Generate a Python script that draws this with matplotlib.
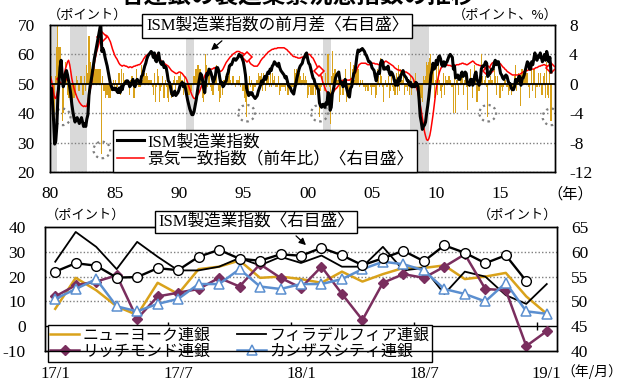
import matplotlib
matplotlib.use('Agg')
import matplotlib.pyplot as plt
import numpy as np
from matplotlib.patches import Ellipse, FancyArrowPatch
from matplotlib.lines import Line2D

plt.rcParams['font.family'] = ['Liberation Serif', 'Noto Sans CJK JP']
plt.rcParams['axes.unicode_minus'] = False

# ---------------- data: top panel (monthly, 1980/1 - 2018/12) ----------------
ism_monthly = [
    47.5, 48.5, 43.5, 37.5, 29.5, 30.5, 35.5, 45.5, 50.5, 55.5, 58.0, 53.0,  # 1980
    49.0, 50.5, 53.5, 54.5, 53.0, 51.0, 49.0, 46.5, 43.0, 40.5, 38.5, 37.0,  # 1981
    38.0, 38.5, 37.5, 36.5, 37.5, 38.5, 37.0, 35.5, 36.5, 35.5, 38.0, 39.5,  # 1982
    46.0, 49.0, 51.0, 53.5, 56.0, 58.5, 60.5, 62.5, 64.5, 66.5, 68.5, 70.5,  # 1983
    61.0, 62.0, 61.0, 59.0, 57.5, 56.0, 54.0, 52.0, 50.0, 49.0, 48.0, 48.5,  # 1984
    48.0, 48.5, 47.5, 47.0, 48.5, 47.0, 49.0, 48.0, 49.5, 50.0, 50.5, 51.0,  # 1985
    51.0, 50.5, 49.0, 49.5, 50.5, 51.5, 49.5, 49.0, 51.0, 51.5, 51.0, 50.5,  # 1986
    50.0, 52.5, 53.0, 54.5, 56.0, 57.0, 58.5, 59.5, 60.0, 60.5, 61.0, 60.5,  # 1987
    59.0, 60.5, 58.0, 57.5, 59.5, 60.5, 58.0, 57.0, 56.5, 57.5, 55.5, 56.0,  # 1988
    55.5, 53.5, 51.0, 50.5, 49.0, 47.0, 46.0, 46.5, 47.5, 46.0, 46.5, 47.0,  # 1989
    48.0, 49.5, 50.0, 50.5, 49.0, 50.0, 48.5, 46.5, 44.5, 43.0, 41.5, 40.5,  # 1990
    39.5, 39.5, 40.5, 42.5, 44.5, 47.0, 49.5, 51.5, 53.5, 53.0, 51.0, 48.5,  # 1991
    47.0, 51.0, 53.5, 53.0, 55.0, 54.5, 53.5, 52.0, 50.5, 51.5, 53.0, 55.5,  # 1992
    55.5, 54.5, 52.0, 50.0, 50.5, 49.0, 49.5, 50.5, 51.0, 53.0, 54.0, 56.0,  # 1993
    56.5, 56.5, 57.5, 58.5, 58.5, 58.0, 58.5, 59.0, 60.0, 59.5, 59.5, 58.5,  # 1994
    57.5, 55.5, 53.0, 48.5, 47.0, 46.0, 47.0, 46.5, 47.0, 46.0, 45.5, 45.0,  # 1995
    45.5, 46.0, 47.5, 48.5, 49.5, 51.0, 50.0, 51.5, 52.5, 51.5, 53.0, 54.0,  # 1996
    53.5, 55.0, 54.5, 56.0, 56.5, 57.5, 57.0, 56.5, 56.0, 57.0, 55.5, 54.5,  # 1997
    54.0, 53.5, 53.0, 52.0, 52.5, 51.0, 49.5, 49.0, 48.5, 47.5, 47.0, 46.5,  # 1998
    48.5, 50.0, 52.0, 53.5, 55.0, 56.0, 56.5, 57.0, 58.5, 59.0, 60.0, 60.5,  # 1999
    58.5, 57.0, 56.5, 55.0, 53.5, 52.0, 51.5, 50.0, 49.5, 48.5, 48.0, 43.5,  # 2000
    42.5, 42.0, 43.0, 43.0, 42.0, 43.5, 43.0, 47.0, 46.5, 41.0, 42.0, 46.5,  # 2001
    48.0, 50.0, 52.0, 53.0, 53.5, 54.0, 51.5, 50.0, 50.5, 49.0, 49.5, 51.5,  # 2002
    49.0, 47.5, 46.0, 45.5, 48.5, 49.0, 51.0, 53.5, 54.0, 56.5, 59.5, 61.5,  # 2003
    61.0, 61.5, 61.5, 62.0, 61.5, 61.0, 60.0, 59.5, 58.5, 57.5, 57.5, 57.0,  # 2004
    55.5, 55.0, 54.5, 52.5, 51.0, 53.0, 54.0, 53.5, 57.0, 58.0, 57.5, 55.0,  # 2005
    55.0, 55.5, 55.0, 56.0, 54.0, 53.0, 54.0, 53.5, 52.5, 51.0, 49.5, 51.0,  # 2006
    49.5, 52.0, 51.0, 53.0, 53.5, 54.5, 53.0, 52.5, 52.0, 51.0, 51.0, 49.5,  # 2007
    50.5, 49.0, 49.0, 49.5, 49.0, 50.5, 50.0, 49.0, 44.5, 39.0, 37.0, 34.5,  # 2008
    35.5, 36.0, 37.0, 40.0, 42.5, 45.5, 49.0, 53.0, 54.5, 57.0, 55.0, 55.5,  # 2009
    58.0, 56.5, 59.0, 59.5, 58.5, 56.5, 56.0, 57.5, 56.0, 57.0, 57.5, 58.5,  # 2010
    59.5, 60.0, 59.5, 59.0, 55.0, 56.0, 52.0, 52.5, 53.0, 51.5, 51.5, 53.0,  # 2011
    54.0, 52.5, 53.0, 54.0, 53.5, 50.0, 50.0, 49.5, 51.5, 51.5, 49.5, 50.5,  # 2012
    53.0, 54.0, 51.5, 50.5, 49.5, 51.0, 55.0, 56.0, 56.0, 56.5, 57.5, 57.0,  # 2013
    52.5, 53.0, 53.5, 54.5, 55.0, 55.0, 57.0, 58.0, 56.5, 57.5, 57.5, 55.5,  # 2014
    53.5, 53.0, 52.0, 51.5, 52.5, 53.0, 52.5, 51.0, 50.0, 50.0, 48.5, 48.0,  # 2015
    48.0, 49.0, 51.5, 50.5, 51.0, 52.5, 52.5, 49.5, 51.5, 52.0, 53.0, 54.5,  # 2016
    56.0, 57.5, 57.0, 55.0, 55.0, 57.5, 56.5, 58.5, 60.5, 58.5, 58.0, 59.5,  # 2017
    59.0, 60.5, 59.0, 57.5, 58.5, 60.0, 58.0, 61.0, 59.5, 57.5, 59.0, 54.0,  # 2018
]

coincident_yoy = [
    0.9, 0.5, -0.3, -1.2, -1.9, -2.0, -1.5, -0.8, -0.1, 0.2, 0.1, 0.6,  # 1980
    0.9, 1.4, 2.0, 2.5, 3.0, 3.2, 2.6, 1.7, 0.7, 0.0, -0.6, -1.1,  # 1981
    -1.5, -1.9, -2.2, -2.5, -2.7, -2.9, -3.0, -3.1, -3.0, -3.1, -3.0, -2.4,  # 1982
    -1.6, -0.9, -0.2, 0.8, 1.8, 2.8, 3.6, 4.3, 4.8, 5.3, 5.8, 6.1,  # 1983
    6.3, 6.5, 6.6, 6.6, 6.6, 6.5, 6.3, 6.0, 5.7, 5.2, 4.7, 4.3,  # 1984
    3.9, 3.6, 3.4, 3.1, 2.8, 2.6, 2.5, 2.4, 2.5, 2.5, 2.4, 2.4,  # 1985
    2.3, 2.2, 2.3, 2.3, 2.2, 2.3, 2.4, 2.4, 2.5, 2.5, 2.6, 2.6,  # 1986
    2.7, 2.9, 3.1, 3.4, 3.6, 3.8, 3.9, 4.0, 4.1, 4.2, 4.1, 4.1,  # 1987
    4.1, 4.0, 4.0, 3.9, 3.8, 3.6, 3.4, 3.2, 3.0, 2.9, 2.8, 2.7,  # 1988
    2.6, 2.5, 2.4, 2.2, 2.0, 1.8, 1.7, 1.6, 1.5, 1.4, 1.4, 1.5,  # 1989
    1.6, 1.6, 1.5, 1.4, 1.2, 1.0, 0.9, 0.6, 0.2, -0.3, -0.7, -1.1,  # 1990
    -1.5, -1.8, -2.0, -2.0, -1.8, -1.6, -1.4, -1.1, -0.7, -0.3, 0.2, 0.7,  # 1991
    1.1, 1.4, 1.6, 1.7, 1.9, 2.0, 2.0, 2.0, 2.1, 2.2, 2.0, 1.9,  # 1992
    1.8, 1.7, 1.7, 1.7, 1.8, 2.0, 2.3, 2.6, 2.9, 3.1, 3.3, 3.5,  # 1993
    3.7, 3.8, 4.0, 4.1, 4.2, 4.3, 4.4, 4.4, 4.4, 4.3, 4.2, 4.2,  # 1994
    4.1, 4.0, 3.8, 3.6, 3.5, 3.2, 2.9, 2.7, 2.6, 2.5, 2.4, 2.4,  # 1995
    2.4, 2.4, 2.6, 2.8, 3.1, 3.3, 3.5, 3.6, 3.8, 4.0, 4.1, 4.3,  # 1996
    4.4, 4.5, 4.6, 4.7, 4.7, 4.8, 4.8, 4.8, 4.9, 4.9, 4.9, 4.9,  # 1997
    4.9, 4.9, 4.9, 4.8, 4.7, 4.6, 4.4, 4.3, 4.1, 4.0, 3.8, 3.7,  # 1998
    3.7, 3.6, 3.6, 3.5, 3.5, 3.5, 3.6, 3.6, 3.7, 3.7, 3.8, 3.9,  # 1999
    4.0, 4.0, 4.0, 3.8, 3.6, 3.5, 3.2, 2.9, 2.6, 2.3, 2.0, 1.8,  # 2000
    1.3, 0.8, 0.3, -0.1, -0.5, -0.9, -1.1, -1.3, -1.5, -1.5, -1.4, -1.2,  # 2001
    -1.1, -0.9, -0.7, -0.6, -0.4, -0.2, 0.1, 0.3, 0.4, 0.5, 0.5, 0.5,  # 2002
    0.5, 0.5, 0.5, 0.5, 0.6, 0.7, 0.8, 1.0, 1.4, 1.7, 2.0, 2.3,  # 2003
    2.6, 2.7, 2.8, 2.8, 2.8, 2.8, 2.8, 2.7, 2.6, 2.6, 2.6, 2.7,  # 2004
    2.8, 2.8, 2.8, 2.7, 2.7, 2.7, 2.6, 2.6, 2.5, 2.6, 2.7, 2.8,  # 2005
    3.0, 3.1, 3.0, 2.9, 2.8, 2.7, 2.6, 2.5, 2.4, 2.2, 2.1, 2.0,  # 2006
    1.9, 1.9, 1.8, 1.8, 1.7, 1.7, 1.7, 1.6, 1.6, 1.5, 1.4, 1.3,  # 2007
    1.1, 1.0, 0.8, 0.5, 0.1, -0.3, -0.7, -1.2, -2.0, -2.8, -3.7, -4.6,  # 2008
    -5.6, -6.5, -7.1, -7.6, -7.7, -7.5, -7.0, -6.2, -5.2, -4.2, -3.0, -1.8,  # 2009
    -0.6, 0.3, 1.0, 1.6, 2.0, 2.3, 2.5, 2.6, 2.6, 2.6, 2.6, 2.5,  # 2010
    2.5, 2.5, 2.4, 2.4, 2.4, 2.5, 2.5, 2.6, 2.6, 2.6, 2.7, 2.7,  # 2011
    2.8, 2.8, 2.7, 2.7, 2.6, 2.6, 2.7, 2.8, 2.9, 3.0, 3.1, 3.0,  # 2012
    2.8, 2.7, 2.6, 2.6, 2.5, 2.5, 2.4, 2.4, 2.3, 2.2, 2.0, 1.9,  # 2013
    1.8, 2.0, 2.3, 2.6, 2.8, 2.9, 3.0, 3.1, 3.1, 3.0, 2.9, 2.8,  # 2014
    2.7, 2.5, 2.3, 2.2, 2.0, 1.9, 1.7, 1.6, 1.5, 1.4, 1.3, 1.2,  # 2015
    1.2, 1.2, 1.2, 1.2, 1.2, 1.2, 1.3, 1.4, 1.5, 1.6, 1.7, 1.7,  # 2016
    1.8, 1.8, 1.9, 1.9, 1.9, 2.0, 2.0, 2.0, 2.1, 2.2, 2.2, 2.3,  # 2017
    2.4, 2.4, 2.5, 2.5, 2.6, 2.6, 2.5, 2.4, 2.4, 2.3, 2.2, 2.2,  # 2018
]

start_year = 1980
# months of the large ISM drops marked with diamonds / dotted circles
drop_months = ['1980-12', '1984-01', '1995-04', '2000-12', '2014-01', '2018-12']
recessions = [(1980.0, 1980.55), (1981.55, 1982.87), (1990.55, 1991.2),
              (2001.2, 2001.85), (2007.92, 2009.47)]
year_ticks = [1980, 1985, 1990, 1995, 2000, 2005, 2010, 2015]
year_labels = ['80', '85', '90', '95', '00', '05', '10', '15']

# ---------------- data: bottom panel (17/1 - 19/1) ----------------
month_labels = ['17/1', '17/2', '17/3', '17/4', '17/5', '17/6', '17/7', '17/8', '17/9',
                '17/10', '17/11', '17/12', '18/1', '18/2', '18/3', '18/4', '18/5',
                '18/6', '18/7', '18/8', '18/9', '18/10', '18/11', '18/12', '19/1']
new_york = [7.0, 19.5, 14.5, 8.0, 4.5, 17.5, 13.0, 23.0, 24.0, 26.5, 19.5, 20.0, 19.0,
            17.5, 22.0, 18.0, 21.0, 23.5, 23.5, 24.5, 19.0, 20.0, 21.5, 12.0, 5.0]
philadelphia = [26.0, 38.0, 32.0, 23.0, 34.0, 28.0, 22.5, 22.5, 24.0, 27.5, 24.5, 28.0, 25.5,
                28.5, 24.0, 24.0, 32.0, 22.5, 23.5, 13.0, 22.0, 20.0, 12.5, 9.0, 17.0]
richmond = [12.0, 16.5, 18.0, 20.5, 3.0, 12.0, 13.5, 15.0, 19.5, 16.0, 25.0, 19.5, 15.5,
            24.0, 13.0, 2.5, 17.5, 21.0, 19.5, 24.0, 29.0, 15.0, 14.5, -8.0, -2.0]
kansas_city = [11.0, 15.0, 19.0, 8.0, 6.0, 9.0, 11.0, 17.0, 17.0, 23.0, 16.0, 15.0, 17.0,
               17.0, 19.0, 23.0, 26.0, 25.0, 22.5, 15.0, 13.0, 10.0, 17.5, 6.0, 5.0]
ism_recent = [56.0, 57.7, 57.2, 54.8, 54.9, 56.7, 56.3, 59.0, 60.4, 58.6, 58.2, 59.5, 59.2,
              60.8, 59.3, 57.3, 58.7, 60.2, 58.1, 61.3, 59.8, 57.7, 59.3, 54.1]

# ---------------- figure ----------------
W, H = 626, 381
fig = plt.figure(figsize=(W / 100, H / 100), dpi=100)


def fx(x):
    return x / W


def fy(y):
    return 1 - y / H


GOLD = '#D9A21B'
RED = '#FF0000'
GRID = '#7F7F7F'
JP = 'Noto Sans CJK JP'

# ===== top panel =====
ax = fig.add_axes([fx(50), fy(172), fx(555) - fx(50), fy(25) - fy(172)])
ax2 = ax.twinx()
ax.set_zorder(ax2.get_zorder() + 1)
ax.patch.set_visible(False)

ism = np.array(ism_monthly)
coin = np.array(coincident_yoy)
t = start_year + np.arange(len(ism)) / 12.0

for a, b in recessions:
    ax2.axvspan(a, b, color='#D9D9D9', lw=0, zorder=0)

change = np.diff(ism)
ax2.bar(t[1:], change, width=1 / 12, color=GOLD, lw=0, zorder=2)
ax2.plot(t, coin, color=RED, lw=1.1, zorder=3)
idx = [(int(m[:4]) - start_year) * 12 + int(m[5:]) - 1 for m in drop_months]
ax2.plot(t[idx], coin[idx], 'D', mfc='white', mec=RED, ms=5.5, mew=1.1, zorder=4)
# dotted circles around the large drops (in right-axis units)
for k in idx:
    ax2.add_patch(Ellipse((t[k], change[k - 1] + 0.5), 1.3, 2.25, fill=False,
                          ec=GRID, ls=(0, (1, 1.6)), lw=1.6, zorder=5))

ax2.set_ylim(-12, 8)
ax2.set_yticks([-12, -8, -4, 0, 4, 8])
ax2.yaxis.grid(True, color=GRID, ls=(0, (1, 1.5)), lw=1.0)
ax2.set_axisbelow(True)

ax.axhline(50, color='black', lw=1.3, zorder=2)
ax.plot(t, ism, color='black', lw=2.2, zorder=3)

ax.set_ylim(20, 70)
ax.set_yticks([20, 30, 40, 50, 60, 70])
ax.set_xlim(1979.97, 2019.23)
ax.set_xticks(year_ticks)
ax.set_xticklabels(year_labels)
ax.tick_params(axis='x', length=0, pad=10, labelsize=12.5)
ax.tick_params(axis='y', length=0, pad=11, labelsize=12.5)
ax2.tick_params(axis='y', length=0, pad=10, labelsize=12.5)
for sp in list(ax.spines.values()) + list(ax2.spines.values()):
    sp.set_color('black')
    sp.set_linewidth(1.0)

handles = [Line2D([], [], color='black', lw=2.2), Line2D([], [], color=RED, lw=1.1)]
leg = ax.legend(handles, ['ISM製造業指数', '景気一致指数（前年比）〈右目盛〉'],
                loc='lower left', bbox_to_anchor=(fx(113), fy(172)),
                bbox_transform=fig.transFigure, borderaxespad=0, fontsize=12,
                handlelength=1.6, handletextpad=0.2, borderpad=0.25, labelspacing=0.1,
                frameon=True, fancybox=False, edgecolor='black', framealpha=1)
leg.get_frame().set_linewidth(1.0)

fig.text(fx(146), fy(26), 'ISM製造業指数の前月差〈右目盛〉', fontsize=12, va='center',
         ha='left', bbox=dict(boxstyle='square,pad=0.22', fc='white', ec='black', lw=1.0))
fig.add_artist(FancyArrowPatch(
    (fx(224), fy(39)), (fx(209), fy(52)), transform=fig.transFigure,
    arrowstyle='-|>,head_length=4,head_width=2', color='black', lw=0.9))

fig.text(fx(48), fy(15), '（ポイント）', fontsize=9.5, va='center', ha='left', family=JP)
fig.text(fx(558), fy(15), '（ポイント、%）', fontsize=9.5, va='center', ha='right', family=JP)
fig.text(fx(547), fy(194), '（年）', fontsize=11, va='center', ha='left', family=JP)

fig.text(fx(298), 1 + 4 / H, '各連銀の製造業景況感指数の推移', fontsize=17, fontweight='bold',
         va='center', ha='center', family=JP)

# ===== bottom panel =====
bx = fig.add_axes([fx(45), fy(351), fx(557) - fx(45), fy(227) - fy(351)])
bx2 = bx.twinx()
xi = np.arange(len(month_labels))

for v in [10, 20, 30]:
    bx.axhline(v, color=GRID, ls=(0, (1, 1.5)), lw=1.0, zorder=0.5)
bx.axhline(0, color='black', lw=1.0, zorder=1)
bx.vlines([5.5, 11.5, 17.5, 23.5], -1.6, 1.6, color='black', lw=1.0, zorder=1)

l_ny, = bx.plot(xi, new_york, color=GOLD, lw=1.8, zorder=2)
l_ph, = bx.plot(xi, philadelphia, color='black', lw=1.3, zorder=2)
l_ri, = bx.plot(xi, richmond, color='#7A2E5E', lw=1.8, marker='D', ms=5.5, mfc='#7A2E5E',
                mec='#7A2E5E', zorder=3)
l_kc, = bx.plot(xi, kansas_city, color='#5B8FD0', lw=1.8, marker='^', ms=7, mfc='white',
                mec='#5B8FD0', mew=1.1, zorder=3)
bx2.plot(xi[:len(ism_recent)], ism_recent, color='black', lw=1.7, marker='o', ms=7,
         mfc='white', mec='black', mew=1.0, zorder=4)

bx.set_xlim(-0.5, 24.5)
bx.set_ylim(-10, 40)
bx.set_yticks([-10, 0, 10, 20, 30, 40])
bx2.set_ylim(40, 65)
bx2.set_yticks([40, 45, 50, 55, 60, 65])
bx.set_xticks([0, 6, 12, 18, 24])
bx.set_xticklabels([month_labels[i] for i in [0, 6, 12, 18, 24]])
bx.tick_params(axis='x', length=0, pad=11, labelsize=12)
bx.tick_params(axis='y', length=0, pad=14, labelsize=12.5)
bx2.tick_params(axis='y', length=0, pad=10, labelsize=12.5)
for sp in list(bx.spines.values()) + list(bx2.spines.values()):
    sp.set_color('black')
    sp.set_linewidth(1.0)

leg2 = bx.legend([l_ny, l_ri, l_ph, l_kc],
                 ['ニューヨーク連銀', 'リッチモンド連銀', 'フィラデルフィア連銀', 'カンザスシティ連銀'],
                 ncol=2, loc='lower left', bbox_to_anchor=(fx(48), fy(362)),
                 bbox_transform=fig.transFigure, borderaxespad=0, fontsize=11.5,
                 handlelength=1.8, handletextpad=0.2, borderpad=0.15, labelspacing=0.0,
                 columnspacing=1.7, frameon=True, fancybox=False, edgecolor='black',
                 framealpha=1)
leg2.get_frame().set_linewidth(1.0)
leg2.set_zorder(10)

fig.text(fx(158), fy(222), 'ISM製造業指数〈右目盛〉', fontsize=12, va='center', ha='left',
         bbox=dict(boxstyle='square,pad=0.2', fc='white', ec='black', lw=1.0), zorder=10)
fig.add_artist(FancyArrowPatch(
    (fx(294), fy(234)), (fx(308), fy(247)), transform=fig.transFigure,
    arrowstyle='-|>,head_length=4,head_width=2', color='black', lw=0.9))

fig.text(fx(46), fy(215), '（ポイント）', fontsize=9.5, va='center', ha='left', family=JP)
fig.text(fx(557), fy(215), '（ポイント）', fontsize=9.5, va='center', ha='right', family=JP)
fig.text(fx(622), fy(372), '（年/月）', fontsize=10, va='center', ha='right', family=JP)

fig.savefig('out.png', dpi=100)
